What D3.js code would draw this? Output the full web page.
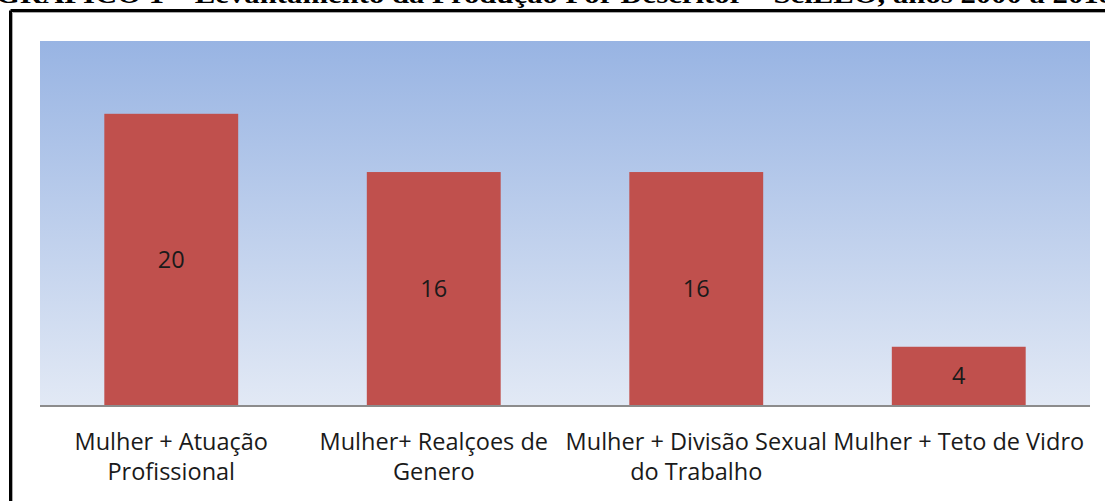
<!DOCTYPE html>
<meta charset="utf-8">
<style>
body { margin: 0; background: #fff; }
.lbl { font-family: "Open Sans", Lato, sans-serif; font-size: 23.5px; fill: #1a1a1a; }
.title { font-family: "Liberation Serif", "Times New Roman", serif; font-size: 26px; font-weight: bold; fill: #000; }
</style>
<body>
<script src="https://d3js.org/d3.v7.min.js"></script>
<script>

var categories = ["Mulher + Atuação Profissional", "Mulher+ Realçoes de Genero",
                  "Mulher + Divisão Sexual do Trabalho", "Mulher + Teto de Vidro"];
var tickLines = [["Mulher + Atuação", "Profissional"],
                 ["Mulher+ Realçoes de", "Genero"],
                 ["Mulher + Divisão Sexual", "do Trabalho"],
                 ["Mulher + Teto de Vidro"]];
var values = [20, 16, 16, 4];
var yMax = 25;
var titleText = "GRÁFICO 1 – Levantamento da Produção Por Descritor – SciELO, anos 2000 a 2018";

var W = 1105, H = 501;
var plot = {left: 40, right: 1090, top: 41, bottom: 405};

var svg = d3.select("body").append("svg")
    .attr("width", W)
    .attr("height", H);

// gradient for plot area
var defs = svg.append("defs");
var grad = defs.append("linearGradient")
    .attr("id", "bg")
    .attr("x1", 0).attr("y1", 0).attr("x2", 0).attr("y2", 1);
grad.append("stop").attr("offset", "0%").attr("stop-color", "#98b4e3");
grad.append("stop").attr("offset", "100%").attr("stop-color", "#e2e9f5");

// title, cut off at the very top like in the source page
svg.append("text")
    .attr("class", "title")
    .attr("x", -4)
    .attr("y", 3)
    .attr("textLength", 1118)
    .attr("lengthAdjust", "spacingAndGlyphs")
    .text(titleText);

// frame
svg.append("line").attr("x1", 10.5).attr("x2", W).attr("y1", 10.5).attr("y2", 10.5)
    .attr("stroke", "#000").attr("stroke-width", 3);
svg.append("line").attr("x1", 10.5).attr("x2", 10.5).attr("y1", 10.5).attr("y2", H)
    .attr("stroke", "#000").attr("stroke-width", 3);
svg.append("line").attr("x1", 12.5).attr("x2", W).attr("y1", 12.5).attr("y2", 12.5)
    .attr("stroke", "#aaa").attr("stroke-width", 1);
svg.append("line").attr("x1", 12.5).attr("x2", 12.5).attr("y1", 12.5).attr("y2", H)
    .attr("stroke", "#aaa").attr("stroke-width", 1);

// scales
var x = d3.scaleBand()
    .domain(categories)
    .range([plot.left, plot.right])
    .paddingInner(0.49)
    .paddingOuter(0.245);
var y = d3.scaleLinear()
    .domain([0, yMax])
    .range([plot.bottom, plot.top]);

svg.append("rect")
    .attr("x", plot.left)
    .attr("y", plot.top)
    .attr("width", plot.right - plot.left)
    .attr("height", plot.bottom - plot.top)
    .attr("fill", "url(#bg)");

// bars
svg.selectAll(".bar")
    .data(values)
    .enter().append("rect")
    .attr("class", "bar")
    .attr("x", function (d, i) { return x(categories[i]); })
    .attr("y", function (d) { return y(d); })
    .attr("width", x.bandwidth())
    .attr("height", function (d) { return y(0) - y(d); })
    .attr("fill", "#c0504d");

// value labels
svg.selectAll(".val")
    .data(values)
    .enter().append("text")
    .attr("class", "lbl")
    .attr("x", function (d, i) { return x(categories[i]) + x.bandwidth() / 2; })
    .attr("y", function (d) { return (y(d) + y(0)) / 2; })
    .attr("dy", "0.35em")
    .attr("text-anchor", "middle")
    .text(function (d) { return d; });

// x axis
var xAxis = svg.append("g")
    .attr("transform", "translate(0," + plot.bottom + ")")
    .call(d3.axisBottom(x).tickSize(0).tickFormat(""));
xAxis.select(".domain")
    .attr("stroke", "#8c8c8c")
    .attr("stroke-width", 2)
    .attr("d", "M" + plot.left + ",1H" + plot.right);

xAxis.selectAll(".tick").each(function (d, i) {
    var t = d3.select(this).append("text")
        .attr("class", "lbl")
        .attr("text-anchor", "middle")
        .attr("fill", "#1a1a1a")
        .attr("y", 45);
    tickLines[i].forEach(function (line, j) {
        t.append("tspan").attr("x", 0).attr("dy", j === 0 ? 0 : 30).text(line);
    });
});

</script>
</body>
